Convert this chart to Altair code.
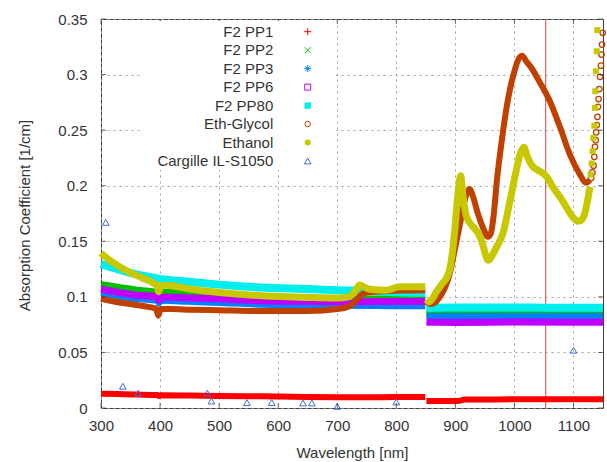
import altair as alt
import pandas as pd

W, H = 502, 389

X_TICKS = [300, 400, 500, 600, 700, 800, 900, 1000, 1100]
Y_TICKS = [0, 0.05, 0.1, 0.15, 0.2, 0.25, 0.3, 0.35]
LASER_NM = [1053]

NAMES = ["F2 PP1", "F2 PP2", "F2 PP3", "F2 PP6", "F2 PP80",
         "Eth-Glycol", "Ethanol", "Cargille IL-S1050"]

PP1_WL = [300, 330, 360, 395, 398, 402, 450, 500, 550, 600, 650, 700, 750, 800, 849,
          851, 880, 905, 915, 950, 1000, 1050, 1100, 1150]
PP1_VAL = [0.0128, 0.0125, 0.0121, 0.0116, 0.0108, 0.0115, 0.0112, 0.0109, 0.0106, 0.0103,
           0.0099, 0.0097, 0.0097, 0.0098, 0.0098,
           0.0062, 0.0062, 0.0063, 0.0076, 0.0077, 0.0078, 0.0078, 0.0079, 0.0079]

PP2_WL = [300, 330, 360, 395, 398, 402, 450, 500, 570, 650, 700, 750, 800, 849,
          851, 900, 1000, 1100, 1150]
PP2_VAL = [0.1115, 0.109, 0.1065, 0.1045, 0.101, 0.1045, 0.1032, 0.1015, 0.0995, 0.0985,
           0.0985, 0.0985, 0.0987, 0.099,
           0.0854, 0.0855, 0.0857, 0.0855, 0.0855]

PP3_WL = [300, 330, 360, 395, 398, 402, 450, 500, 570, 650, 700, 750, 800, 849,
          851, 900, 1000, 1100, 1150]
PP3_VAL = [0.1035, 0.1005, 0.098, 0.0965, 0.094, 0.0965, 0.0955, 0.0945, 0.093, 0.0925,
           0.092, 0.0918, 0.0915, 0.0915,
           0.0827, 0.0827, 0.0828, 0.0827, 0.0827]

PP6_WL = [300, 330, 360, 395, 398, 402, 450, 500, 570, 650, 700, 750, 800, 849,
          851, 900, 1000, 1100, 1150]
PP6_VAL = [0.107, 0.104, 0.1015, 0.1, 0.097, 0.0998, 0.099, 0.0983, 0.0965, 0.0958,
           0.0956, 0.0957, 0.0958, 0.096,
           0.0772, 0.077, 0.0773, 0.0772, 0.0772]

PP80_WL = [300, 315, 330, 350, 370, 400, 450, 500, 570, 650, 700, 740, 800, 849,
           851, 900, 950, 1000, 1050, 1100, 1150]
PP80_VAL = [0.1295, 0.127, 0.1245, 0.1215, 0.119, 0.1162, 0.1135, 0.111, 0.1085, 0.107,
            0.106, 0.1055, 0.1042, 0.1037,
            0.0902, 0.0905, 0.0905, 0.0905, 0.0903, 0.0902, 0.0902]

GLY_WL = [300, 320, 350, 380, 393, 397, 401, 420, 450, 500, 570, 650, 700, 715, 725, 732,
          740, 750, 780, 810, 849,
          851, 858, 866, 875, 883, 891, 900, 908, 915, 920, 924, 930, 937, 947, 955, 960,
          965, 970, 975, 980, 986, 992, 1000, 1008, 1013, 1020, 1030, 1043, 1060, 1077,
          1094, 1111, 1121, 1128]
GLY_VAL = [0.0985, 0.096, 0.0935, 0.091, 0.0895, 0.083, 0.089, 0.089, 0.0885, 0.088,
           0.0872, 0.0872, 0.089, 0.0905, 0.093, 0.097, 0.1015, 0.104, 0.105, 0.1057, 0.106,
           0.0955, 0.0935, 0.095, 0.101, 0.109, 0.122, 0.145, 0.166, 0.185, 0.194, 0.197,
           0.19, 0.177, 0.162, 0.154, 0.157, 0.174, 0.203, 0.226, 0.246, 0.268, 0.2855,
           0.303, 0.315, 0.317, 0.312, 0.305, 0.293, 0.276, 0.253, 0.228, 0.21, 0.2026, 0.205]
GLY_TAIL_WL = [1130, 1132, 1134, 1135.3, 1136.4, 1137.6, 1138.5, 1139.5, 1140.5, 1141.5,
               1142.5, 1143.7, 1145, 1146.6, 1147.5, 1148.3, 1149.5]
GLY_TAIL_VAL = [0.207, 0.212, 0.218, 0.226, 0.235, 0.241, 0.248, 0.2546, 0.262, 0.271,
                0.278, 0.287, 0.298, 0.308, 0.318, 0.327, 0.3376]

ETH_WL = [300, 305, 320, 346, 370, 390, 395, 397.5, 401, 410, 450, 500, 572, 650, 700, 720,
          730, 738, 745, 755, 783, 806, 849,
          851, 856, 868, 878, 885, 891, 895, 899, 903, 906, 909, 913, 919, 930, 939, 946,
          951, 956, 962, 970, 981, 992, 1004, 1010, 1016, 1022, 1030, 1043, 1055, 1066,
          1077, 1090, 1100, 1108, 1115, 1120, 1125, 1128]
ETH_VAL = [0.1395, 0.137, 0.131, 0.1228, 0.117, 0.112, 0.11, 0.1046, 0.1095, 0.1105, 0.107,
           0.1039, 0.101, 0.0995, 0.099, 0.1, 0.105, 0.1106, 0.109, 0.1068, 0.106, 0.109,
           0.109,
           0.0975, 0.0955, 0.1046, 0.112, 0.117, 0.126, 0.14, 0.16, 0.185, 0.2, 0.209, 0.19,
           0.172, 0.163, 0.157, 0.148, 0.138, 0.133, 0.137, 0.145, 0.158, 0.185, 0.216,
           0.229, 0.2346, 0.226, 0.218, 0.213, 0.208, 0.198, 0.19, 0.179, 0.171, 0.168,
           0.17, 0.177, 0.19, 0.199]
ETH_TAIL_WL = [1129, 1130.8, 1132.5, 1133.6, 1135.3, 1136.4, 1137, 1138, 1139.3, 1140.3]
ETH_TAIL_VAL = [0.21, 0.22, 0.231, 0.243, 0.254, 0.27, 0.285, 0.303, 0.321, 0.34]

CAR_WL = [308, 337, 363, 480, 487, 547, 589, 642, 657, 700, 800, 1100]
CAR_VAL = [0.167, 0.0196, 0.0135, 0.0135, 0.0063, 0.0049, 0.0049, 0.0045, 0.0045, 0.0015,
           0.0054, 0.052]

COLORS = ["#ff0000", "#00c000", "#0080ff", "#c000ff", "#00eeee", "#c04000", "#c8c800",
          "#4169e1"]

FONT = "Liberation Sans"
TXT = "#333333"

X = alt.X("wl:Q", scale=alt.Scale(domain=[300, 1150], nice=False, zero=False),
          axis=alt.Axis(values=X_TICKS, format="d", title="Wavelength [nm]", grid=True,
                        gridDash=[2, 4], gridColor="#a0a0a0", ticks=False, tickSize=0,
                        domain=False, labelFont=FONT, labelFontSize=15, labelColor=TXT,
                        labelPadding=10, labelFlush=False, labelOverlap=False,
                        labelBound=False, titleFont=FONT, titleFontSize=15,
                        titleFontWeight="normal", titleColor=TXT, titleX=W / 2,
                        titleY=44, titleBaseline="middle", titleAlign="center"))
Y = alt.Y("val:Q", scale=alt.Scale(domain=[0, 0.35], nice=False, zero=False),
          axis=alt.Axis(values=Y_TICKS, format="~g", title="Absorption Coefficient [1/cm]",
                        grid=True, gridDash=[2, 4], gridColor="#a0a0a0", ticks=False,
                        tickSize=0, domain=False, labelFont=FONT, labelFontSize=15,
                        labelColor=TXT, labelPadding=14, labelFlush=False,
                        labelOverlap=False, labelBound=False, titleFont=FONT,
                        titleFontSize=15, titleFontWeight="normal", titleColor=TXT,
                        titleX=-77, titleY=196, titleBaseline="middle",
                        titleAlign="center", titleAngle=-90))


def band(wl, val, color, width):
    df = pd.DataFrame({"wl": wl, "val": val})
    df["seg"] = (df["wl"] > 850).astype(int)
    return alt.Chart(df).mark_line(color=color, strokeWidth=width, interpolate="monotone",
                                   strokeCap="butt").encode(x=X, y=Y, detail="seg:N")


def pts(wl, val, **kw):
    df = pd.DataFrame({"wl": wl, "val": val})
    return alt.Chart(df).mark_point(**kw).encode(x=X, y=Y)


rule = alt.Chart(pd.DataFrame({"wl": LASER_NM})).mark_rule(
    color="#e04040", strokeWidth=1).encode(x=X)

layers = [
    rule,
    band(PP1_WL, PP1_VAL, COLORS[0], 6),
    band(PP2_WL, PP2_VAL, COLORS[1], 6),
    band(PP3_WL, PP3_VAL, COLORS[2], 6),
    band(PP6_WL, PP6_VAL, COLORS[3], 7),
    band(PP80_WL, PP80_VAL, COLORS[4], 8),
    band(GLY_WL, GLY_VAL, COLORS[5], 6),
    pts(GLY_TAIL_WL, GLY_TAIL_VAL, shape="circle", filled=False, color=COLORS[5], size=30,
        strokeWidth=1.3, opacity=1),
    band(ETH_WL, ETH_VAL, COLORS[6], 7),
    pts(ETH_TAIL_WL, ETH_TAIL_VAL, shape="square", filled=True, color=COLORS[6], size=36,
        opacity=1),
    pts(CAR_WL, CAR_VAL, shape="triangle-up", filled=False, color=COLORS[7], size=45,
        strokeWidth=1, opacity=1),
]

# inward gnuplot-style ticks on all four sides
xt = pd.DataFrame({"wl": X_TICKS})
yt = pd.DataFrame({"val": Y_TICKS})
for yy in (H - 2.5, 2.5):
    layers.append(alt.Chart(xt).mark_tick(orient="vertical", size=5, thickness=1,
                                          color="#333333").encode(x=X, y=alt.value(yy)))
for xx in (2.5, W - 2.5):
    layers.append(alt.Chart(yt).mark_tick(orient="horizontal", size=5, thickness=1,
                                          color="#333333").encode(y=Y, x=alt.value(xx)))

main = alt.layer(*layers)

# gnuplot style key: labels right-aligned, sample to the right
LY = alt.Y("name:N", scale=alt.Scale(type="point", domain=NAMES, range=[12.7, 142],
                                     padding=0), axis=None)
SHAPES = ["M-1,0L1,0M0,-1L0,1", "M-1,-1L1,1M-1,1L1,-1",
          "M-1,0L1,0M0,-1L0,1M-0.7,-0.7L0.7,0.7M-0.7,0.7L0.7,-0.7",
          "square", "square", "circle", "circle", "triangle-up"]
FILLED = [False, False, False, False, True, False, True, False]
SIZES = [49, 36, 49, 36, 42, 30, 36, 45]

leg_df = pd.DataFrame({"name": NAMES})
bg = alt.Chart(pd.DataFrame({"a": [0]})).mark_rect(color="white").encode(
    x=alt.value(40), x2=alt.value(235), y=alt.value(2), y2=alt.value(151))
txt = alt.Chart(leg_df).mark_text(align="right", baseline="middle", font=FONT, fontSize=15,
                                  color=TXT).encode(x=alt.value(172.3), y=LY, text="name:N")
legend_layers = [bg, txt]
for i, n in enumerate(NAMES):
    legend_layers.append(
        alt.Chart(pd.DataFrame({"name": [n]})).mark_point(
            shape=SHAPES[i], filled=FILLED[i], color=COLORS[i], size=SIZES[i],
            strokeWidth=1, opacity=1).encode(x=alt.value(206.7), y=LY))
legend = alt.layer(*legend_layers)

chart = alt.layer(main, legend).resolve_scale(y="independent").properties(
    width=W, height=H,
    autosize=alt.AutoSizeParams(type="none"),
    padding={"left": 101, "top": 19, "right": 4, "bottom": 54},
).configure_view(stroke="#404040", strokeWidth=1)

chart.save("out.html", embed_options={"renderer": "svg", "actions": False})
